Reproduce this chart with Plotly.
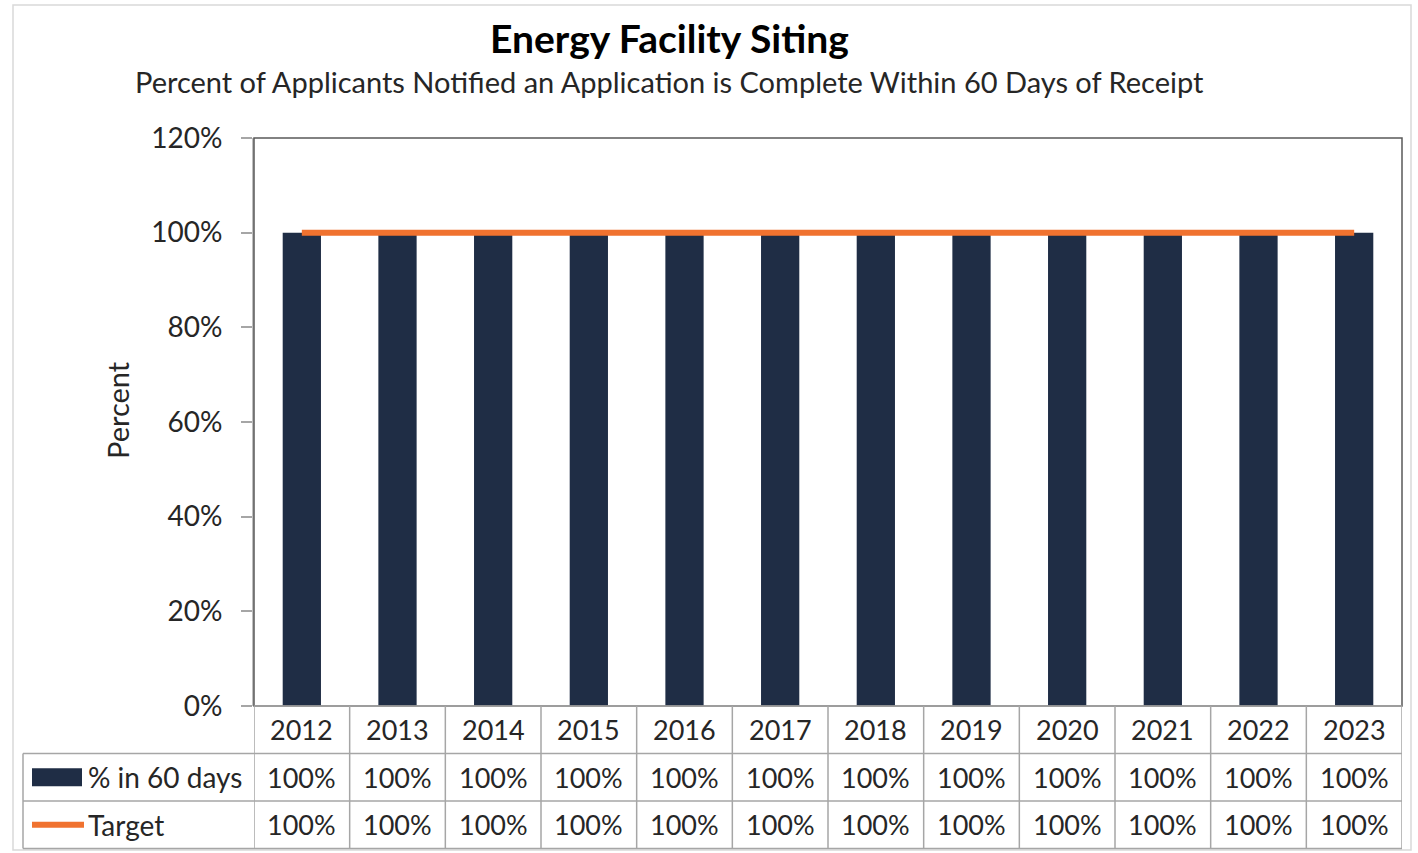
import plotly.graph_objects as go

years = ["2012", "2013", "2014", "2015", "2016", "2017", "2018", "2019", "2020", "2021", "2022", "2023"]
pct_in_60_days = [1.00, 1.00, 1.00, 1.00, 1.00, 1.00, 1.00, 1.00, 1.00, 1.00, 1.00, 1.00]
target = [1.00, 1.00, 1.00, 1.00, 1.00, 1.00, 1.00, 1.00, 1.00, 1.00, 1.00, 1.00]
series_names = ["% in 60 days", "Target"]
y_ticks = [0, 0.2, 0.4, 0.6, 0.8, 1.0, 1.2]

title_text = "Energy Facility Siting"
subtitle_text = "Percent of Applicants Notified an Application is Complete Within 60 Days of Receipt"
y_title = "Percent"

BAR_COLOR = "#1F2D45"
LINE_COLOR = "#F0722F"
TEXT_COLOR = "#262626"
FONT = "Lato, 'Open Sans', sans-serif"

W, H = 1418, 853
L, R, T, B = 254, 16, 138, 147
plot_w = W - L - R
plot_h = H - T - B


def px_to_paper_y(py):
    return (H - B - py) / plot_h


def px_to_paper_x(px):
    return (px - L) / plot_w


fig = go.Figure()
fig.add_trace(go.Bar(x=years, y=pct_in_60_days, name=series_names[0],
                     marker=dict(color=BAR_COLOR, line=dict(width=0)), showlegend=False))
fig.add_trace(go.Scatter(x=years, y=target, name=series_names[1], mode="lines",
                         line=dict(color=LINE_COLOR, width=6), showlegend=False))

shapes = []
annotations = []

# plot area border
shapes.append(dict(type="rect", xref="paper", yref="paper", x0=0, x1=1, y0=0, y1=1,
                   line=dict(color="#595959", width=1.5), layer="above"))
# outer chart border
shapes.append(dict(type="rect", xref="paper", yref="paper",
                   x0=px_to_paper_x(13), x1=px_to_paper_x(1411),
                   y0=px_to_paper_y(850), y1=px_to_paper_y(5),
                   line=dict(color="#D9D9D9", width=1.5)))

# data table
row_h = 47.5
rows_y = [H - B + i * row_h for i in range(4)]  # pixel y of row lines
legend_left = px_to_paper_x(23)
n = len(years)
grid_col = "#A6A6A6"
for i, ry in enumerate(rows_y):
    shapes.append(dict(type="line", xref="paper", yref="paper",
                       x0=0 if i == 0 else legend_left, x1=1,
                       y0=px_to_paper_y(ry), y1=px_to_paper_y(ry),
                       line=dict(color=grid_col, width=1.5)))
for k in range(n + 1):
    shapes.append(dict(type="line", xref="x", yref="paper",
                       x0=k - 0.5, x1=k - 0.5,
                       y0=px_to_paper_y(rows_y[0]), y1=px_to_paper_y(rows_y[3]),
                       line=dict(color=grid_col, width=1.5)))
shapes.append(dict(type="line", xref="paper", yref="paper",
                   x0=legend_left, x1=legend_left,
                   y0=px_to_paper_y(rows_y[1]), y1=px_to_paper_y(rows_y[3]),
                   line=dict(color=grid_col, width=1.5)))

year_font = dict(family=FONT, size=27, color=TEXT_COLOR)
cell_font = dict(family=FONT, size=27, color=TEXT_COLOR)
for k, yr in enumerate(years):
    annotations.append(dict(x=k, y=px_to_paper_y((rows_y[0] + rows_y[1]) / 2), xref="x", yref="paper",
                            text=yr, showarrow=False, font=year_font, xanchor="center", yanchor="middle"))
    annotations.append(dict(x=k, y=px_to_paper_y((rows_y[1] + rows_y[2]) / 2), xref="x", yref="paper",
                            text=f"{pct_in_60_days[k]:.0%}", showarrow=False, font=cell_font,
                            xanchor="center", yanchor="middle"))
    annotations.append(dict(x=k, y=px_to_paper_y((rows_y[2] + rows_y[3]) / 2), xref="x", yref="paper",
                            text=f"{target[k]:.0%}", showarrow=False, font=cell_font,
                            xanchor="center", yanchor="middle"))

r1c = (rows_y[1] + rows_y[2]) / 2
r2c = (rows_y[2] + rows_y[3]) / 2
shapes.append(dict(type="rect", xref="paper", yref="paper",
                   x0=px_to_paper_x(32), x1=px_to_paper_x(82),
                   y0=px_to_paper_y(r1c + 9), y1=px_to_paper_y(r1c - 9),
                   fillcolor=BAR_COLOR, line=dict(width=0)))
shapes.append(dict(type="line", xref="paper", yref="paper",
                   x0=px_to_paper_x(32), x1=px_to_paper_x(84),
                   y0=px_to_paper_y(r2c), y1=px_to_paper_y(r2c),
                   line=dict(color=LINE_COLOR, width=6)))
annotations.append(dict(x=px_to_paper_x(86), y=px_to_paper_y(r1c), xref="paper", yref="paper",
                        text=series_names[0], showarrow=False, font=dict(family=FONT, size=28, color=TEXT_COLOR),
                        xanchor="left", yanchor="middle"))
annotations.append(dict(x=px_to_paper_x(86), y=px_to_paper_y(r2c), xref="paper", yref="paper",
                        text=series_names[1], showarrow=False, font=dict(family=FONT, size=28, color=TEXT_COLOR),
                        xanchor="left", yanchor="middle"))

annotations.append(dict(x=px_to_paper_x(669), y=px_to_paper_y(38), xref="paper", yref="paper",
                        text=f"<b>{title_text}</b>", showarrow=False,
                        font=dict(family=FONT, size=39, color="#000000"),
                        xanchor="center", yanchor="middle"))
annotations.append(dict(x=px_to_paper_x(669), y=px_to_paper_y(82), xref="paper", yref="paper",
                        text=subtitle_text, showarrow=False,
                        font=dict(family=FONT, size=29, color=TEXT_COLOR),
                        xanchor="center", yanchor="middle"))
annotations.append(dict(x=px_to_paper_x(117), y=px_to_paper_y(410), xref="paper", yref="paper",
                        text=y_title, showarrow=False, textangle=-90,
                        font=dict(family=FONT, size=29, color=TEXT_COLOR),
                        xanchor="center", yanchor="middle"))

fig.update_layout(
    width=W, height=H,
    margin=dict(l=L, r=R, t=T, b=B, autoexpand=False),
    paper_bgcolor="white", plot_bgcolor="white",
    bargap=0.6,
    shapes=shapes, annotations=annotations,
    font=dict(family=FONT, color=TEXT_COLOR),
)
fig.update_xaxes(type="category", showticklabels=False, showgrid=False, zeroline=False,
                 showline=False, ticks="", range=[-0.5, n - 0.5])
fig.update_yaxes(range=[0, 1.2], tickvals=y_ticks, tickformat=".0%", showgrid=False, zeroline=False,
                 showline=True, linecolor="#BFBFBF", linewidth=2, ticks="outside", ticklen=11,
                 tickcolor="#A6A6A6", tickwidth=1.5, ticklabelstandoff=13,
                 tickfont=dict(family=FONT, size=28, color=TEXT_COLOR))

fig.write_html("out.html", config={"displayModeBar": False},
               post_script="document.body.style.margin='0';document.body.style.overflow='hidden';")
